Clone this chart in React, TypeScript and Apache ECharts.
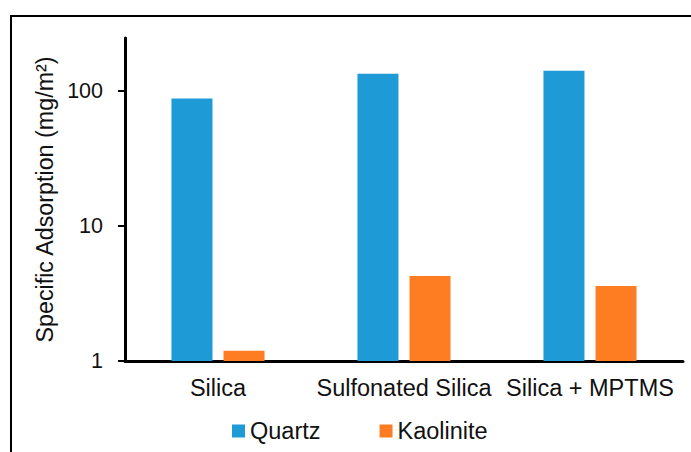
import React, { useEffect, useRef } from "react";
import * as echarts from "echarts";

const categories = ["Silica", "Sulfonated Silica", "Silica + MPTMS"];
const quartz = [88, 134, 141];
const kaolinite = [1.19, 4.26, 3.59];
const yTicks = [1, 10, 100];

export default function App() {
  const ref = useRef<HTMLDivElement>(null);
  useEffect(() => {
    document.body.style.margin = "0";
    const chart = echarts.init(ref.current!, null, { renderer: "svg" });
    const font = "'Liberation Sans', Arial, sans-serif";
    chart.setOption({
      animation: false,
      backgroundColor: "#fff",
      textStyle: { fontFamily: font },
      graphic: [
        {
          type: "rect",
          shape: { x: 11, y: 16, width: 720, height: 500 },
          style: { fill: "none", stroke: "#000", lineWidth: 2 },
          silent: true,
        },
      ],
      grid: { left: 125, right: 8, top: 38, bottom: 91, containLabel: false },
      legend: {
        left: 227,
        top: 414,
        icon: "rect",
        itemWidth: 13,
        itemHeight: 13,
        itemGap: 59,
        textStyle: { fontSize: 23.5, color: "#111", fontFamily: font },
        data: ["Quartz", "Kaolinite"],
      },
      xAxis: {
        type: "category",
        data: categories,
        axisLine: { lineStyle: { color: "#000", width: 3 } },
        axisTick: { show: false },
        axisLabel: { fontSize: 23.5, color: "#111", margin: 15, fontFamily: font, interval: 0 },
      },
      yAxis: {
        type: "log",
        logBase: 10,
        min: 1,
        max: 247,
        name: "Specific Adsorption (mg/m²)",
        nameLocation: "middle",
        nameGap: 67,
        nameRotate: 90,
        nameTextStyle: { fontSize: 23.3, color: "#111", fontFamily: font },
        axisLine: { show: true, lineStyle: { color: "#000", width: 3 } },
        axisTick: { show: true, inside: false, length: 7, lineStyle: { color: "#000", width: 2 }, customValues: yTicks },
        axisLabel: { fontSize: 21.5, color: "#111", margin: 22, fontFamily: font, customValues: yTicks },
        splitLine: { show: false },
      },
      series: [
        {
          name: "Quartz",
          type: "bar",
          data: quartz,
          barWidth: 41,
          barGap: "27%",
          itemStyle: { color: "#1E9BD7" },
        },
        {
          name: "Kaolinite",
          type: "bar",
          data: kaolinite,
          barWidth: 41,
          itemStyle: { color: "#FE7D23" },
        },
      ],
    });
    return () => chart.dispose();
  }, []);
  return <div ref={ref} style={{ width: 691, height: 452 }} />;
}
